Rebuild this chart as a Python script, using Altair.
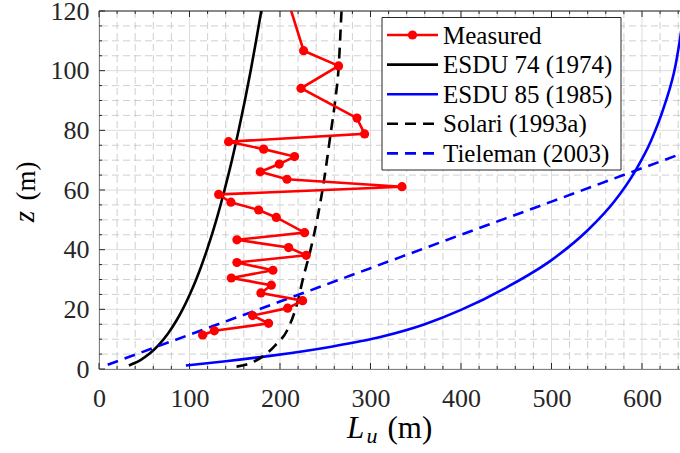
import altair as alt
import pandas as pd

# Measured longitudinal integral length scale profile
measured_lu = [114.5, 127.4, 187.4, 169.7, 208.4, 225.0, 178.9, 190.4, 146.2, 192.2,
               152.4, 229.0, 209.5, 152.4, 227.2, 195.9, 176.4, 145.8, 132.2, 334.8,
               207.7, 178.2, 199.2, 216.1, 181.9, 143.2, 293.5, 285.0, 223.2, 264.7,
               226.1, 200.0]
measured_z = [11.4, 12.8, 15.3, 17.9, 20.4, 22.9, 25.5, 28.1, 30.5, 33.1,
              35.7, 38.1, 40.7, 43.3, 45.7, 50.8, 53.3, 55.9, 58.5, 61.1,
              63.6, 66.1, 68.7, 71.2, 73.7, 76.2, 78.8, 84.1, 94.1, 101.6,
              106.7, 132.0]

# Empirical / code profiles
esdu74_z = [1.2, 2, 3, 5, 8, 12, 16, 20, 25, 30, 40, 50, 60, 70, 80, 90, 100, 110, 120, 125]
esdu74_lu = [33.0, 39.4, 45.8, 55.3, 65.8, 76.5, 85.1, 92.4, 100.3, 107.4, 119.4, 129.7,
             138.7, 146.9, 154.3, 161.2, 167.6, 173.6, 179.3, 182.0]

esdu85_lu = [96, 140, 189, 255, 312, 360, 400, 450, 500, 540, 570, 592, 610, 625, 637, 645, 650]
esdu85_z = [1.2, 2.6, 4.4, 7.4, 10.8, 15.0, 19.8, 27.3, 36.5, 46.5, 56.4, 66.1, 76.5,
            88.5, 101.7, 116.9, 128.9]

solari_z = [0.8, 1.5, 2.6, 4.4, 8, 13, 22, 31, 39, 50, 62, 79, 90, 102, 120, 125]
solari_lu = [152, 163, 172, 182, 195, 208, 219, 226, 233, 241, 248, 256, 261, 265, 268, 269]

tieleman_z = [1.4, 11.5, 22.6, 33.8, 45.0, 56.1, 67.3, 72.9]
tieleman_lu = [9.6, 100, 200, 300, 400, 500, 600, 650]

legend_labels = ["Measured", "ESDU 74 (1974)", "ESDU 85 (1985)", "Solari (1993a)", "Tieleman (2003)"]
legend_colors = ["#ff0000", "#000000", "#0000ff", "#000000", "#0000ff"]
legend_dashed = [False, False, False, True, True]

x_major = [0, 100, 200, 300, 400, 500, 600]
y_major = [0, 20, 40, 60, 80, 100, 120]
x_minor = [v for v in range(0, 641, 20) if v % 100]
y_minor = [v for v in range(0, 121, 5) if v % 20]

W, H = 581, 358
FONT = "Liberation Serif"
INK = "#262626"
DASH = [11, 7]

X_SCALE = alt.Scale(domain=[0, 642], nice=False, zero=False)
Y_SCALE = alt.Scale(domain=[0, 120], nice=False, zero=False)
X_AXIS = alt.Axis(values=x_major, title=None, grid=False, ticks=False, domainColor=INK,
                  domainWidth=1, labelFont=FONT, labelFontSize=26, labelColor=INK,
                  labelPadding=16, labelFlush=False, labelOverlap=False, format="d")
Y_AXIS = alt.Axis(values=y_major, title=None, grid=False, ticks=False, domainColor=INK,
                  domainWidth=1, labelFont=FONT, labelFontSize=26, labelColor=INK,
                  labelPadding=10, labelFlush=False, labelOverlap=False, format="d")


def xq(field):
    return alt.X(f"{field}:Q", scale=X_SCALE, axis=X_AXIS)


def yq(field):
    return alt.Y(f"{field}:Q", scale=Y_SCALE, axis=Y_AXIS)


def profile(lu, z):
    return pd.DataFrame({"lu": lu, "z": z, "i": range(len(z))})


layers = []

# grid
layers.append(alt.Chart(pd.DataFrame({"v": x_minor})).mark_rule(
    color="#c4c4c4", strokeWidth=0.8, strokeDash=[7, 4]).encode(x=xq("v")))
layers.append(alt.Chart(pd.DataFrame({"v": y_minor})).mark_rule(
    color="#c4c4c4", strokeWidth=0.8, strokeDash=[7, 4]).encode(y=yq("v")))
layers.append(alt.Chart(pd.DataFrame({"v": x_major})).mark_rule(
    color="#dcdcdc", strokeWidth=1).encode(x=xq("v")))
layers.append(alt.Chart(pd.DataFrame({"v": y_major})).mark_rule(
    color="#dcdcdc", strokeWidth=1).encode(y=yq("v")))

# inward ticks on bottom, top and left
for vals, ln in ((x_major, 6), (x_minor, 3)):
    d = pd.DataFrame({"v": vals})
    layers.append(alt.Chart(d).mark_rule(color=INK, strokeWidth=1).encode(
        x=xq("v"), y=alt.value(H), y2=alt.value(H - ln)))
    layers.append(alt.Chart(d).mark_rule(color=INK, strokeWidth=1).encode(
        x=xq("v"), y=alt.value(0), y2=alt.value(ln)))
for vals, ln in ((y_major, 6), (y_minor, 3)):
    d = pd.DataFrame({"v": vals})
    layers.append(alt.Chart(d).mark_rule(color=INK, strokeWidth=1).encode(
        y=yq("v"), x=alt.value(0), x2=alt.value(ln)))

# top frame
layers.append(alt.Chart(pd.DataFrame({"v": [120]})).mark_rule(
    color=INK, strokeWidth=1).encode(y=yq("v")))

# model curves (smooth, monotone in L_u)
for lu, z, color, dashed in ((esdu74_lu, esdu74_z, "#000000", False),
                             (esdu85_lu, esdu85_z, "#0000ff", False),
                             (solari_lu, solari_z, "#000000", True),
                             (tieleman_lu, tieleman_z, "#0000ff", True)):
    kw = dict(color=color, strokeWidth=2.6, clip=True, interpolate="monotone")
    if dashed:
        kw["strokeDash"] = DASH
    layers.append(alt.Chart(profile(lu, z)).mark_line(**kw).encode(
        x=xq("lu"), y=yq("z"), order="i:Q"))

# measured profile
meas = profile(measured_lu, measured_z)
layers.append(alt.Chart(meas).mark_line(color="#ff0000", strokeWidth=2.6, clip=True).encode(
    x=xq("lu"), y=yq("z"), order="i:Q"))
layers.append(alt.Chart(meas).mark_point(filled=True, color="#ff0000", size=85, opacity=1,
                                         clip=True).encode(x=xq("lu"), y=yq("z")))

# legend
anchor = pd.DataFrame({"a": [0]})
layers.append(alt.Chart(anchor).mark_rect(fill="white", stroke=INK, strokeWidth=1).encode(
    x=alt.value(283), x2=alt.value(522), y=alt.value(6.5), y2=alt.value(159)))
for k, (lab, col, dashed) in enumerate(zip(legend_labels, legend_colors, legend_dashed)):
    yc = 24 + 29.6 * k
    kw = dict(color=col, strokeWidth=2.6)
    if dashed:
        kw["strokeDash"] = DASH
    layers.append(alt.Chart(anchor).mark_rule(**kw).encode(
        x=alt.value(288), x2=alt.value(339), y=alt.value(yc)))
    if k == 0:
        layers.append(alt.Chart(anchor).mark_point(filled=True, color=col, size=85, opacity=1).encode(
            x=alt.value(313.5), y=alt.value(yc)))
    layers.append(alt.Chart(anchor).mark_text(
        text=lab, font=FONT, fontSize=25, color="#000000", align="left",
        baseline="alphabetic").encode(x=alt.value(344), y=alt.value(yc + 8.5)))

# axis titles
layers.append(alt.Chart(anchor).mark_text(
    text="L", font=FONT, fontSize=31, fontStyle="italic", color="#000000", align="left",
    baseline="alphabetic").encode(x=alt.value(248), y=alt.value(427)))
layers.append(alt.Chart(anchor).mark_text(
    text="u", font=FONT, fontSize=22, fontStyle="italic", color="#000000", align="left",
    baseline="alphabetic").encode(x=alt.value(267.5), y=alt.value(432)))
layers.append(alt.Chart(anchor).mark_text(
    text="(m)", font=FONT, fontSize=31, color="#000000", align="left",
    baseline="alphabetic").encode(x=alt.value(288.5), y=alt.value(427)))
layers.append(alt.Chart(anchor).mark_text(
    text="(m)", font=FONT, fontSize=27, color="#000000", align="center", angle=270,
    baseline="middle").encode(x=alt.value(-72), y=alt.value(170)))
layers.append(alt.Chart(anchor).mark_text(
    text="z", font=FONT, fontSize=29, fontStyle="italic", color="#000000", align="center",
    angle=270, baseline="middle").encode(x=alt.value(-74), y=alt.value(205.5)))

chart = alt.layer(*layers).properties(
    width=W, height=H,
    autosize=alt.AutoSizeParams(type="none"),
    padding={"left": 99, "top": 11, "right": 0, "bottom": 84},
    background="white",
).configure_view(stroke=None)

chart.save("out.html", embed_options={"renderer": "svg", "actions": False})
